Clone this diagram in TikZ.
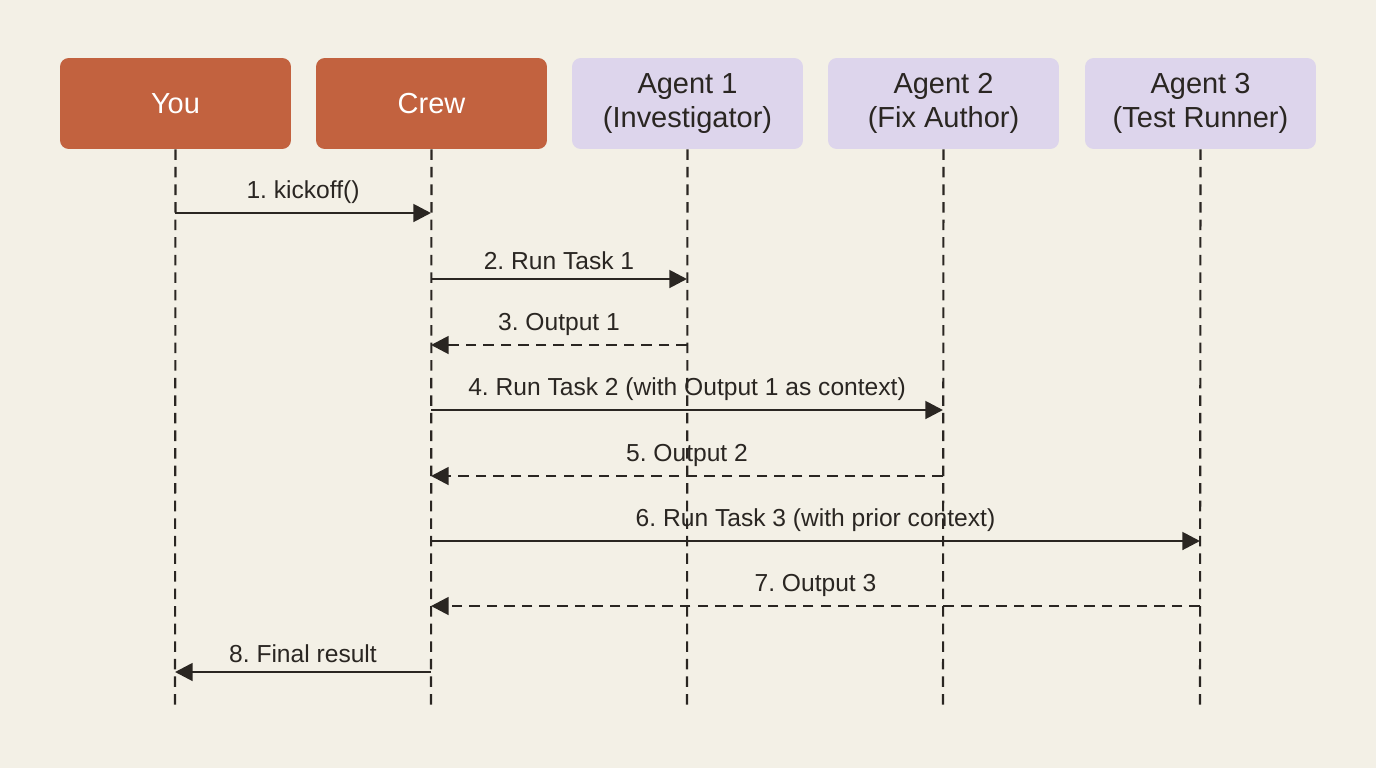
\documentclass[tikz,border=0pt]{standalone}
\usepackage{fontspec}
\setmainfont{Liberation Sans}
\usetikzlibrary{arrows.meta}
\frenchspacing
\definecolor{bg}{HTML}{F3F0E6}
\definecolor{org}{HTML}{C2623F}
\definecolor{lav}{HTML}{DDD5EC}
\definecolor{ink}{HTML}{2A2622}
\tikzset{
  x=0.02cm,y=-0.02cm,
  actor/.style={rounded corners=5pt,minimum width=4.62cm,minimum height=1.82cm,align=center,font=\fontsize{16.5}{19}\selectfont,inner sep=0pt},
  you/.style={actor,fill=org,text=white},
  ag/.style={actor,fill=lav,text=ink},
  life/.style={draw=ink,line width=1.2pt,dash pattern=on 6pt off 4pt},
  msg/.style={draw=ink,line width=1.6pt,-{Triangle[length=10pt,width=10pt]}},
  ret/.style={msg,dash pattern=on 6pt off 4pt},
  lbl/.style={font=\fontsize{14}{16}\frenchspacing\selectfont,text=ink,above=1pt}
}
\begin{document}
\begin{tikzpicture}
\fill[bg] (0,0) rectangle (1376,768);
\useasboundingbox (0,0) rectangle (1376,768);
\node[you] (you) at (175.5,103.5) {You};
\node[you] (crew) at (431.5,103.5) {Crew};
\node[ag] (a1) at (687.5,103.5) {Agent 1\\(Investigator)};
\node[ag] (a2) at (943.5,103.5) {Agent 2\\(Fix Author)};
\node[ag] (a3) at (1200.5,103.5) {Agent 3\\(Test Runner)};
\foreach \n/\x in {you/175,crew/431,a1/687,a2/943,a3/1200}{
  \coordinate (\n e) at (\x,710);
  \draw[life] (\n.south) -- (\n e);
}
\foreach \n/\x in {you/175,crew/431,a1/687,a2/943,a3/1200}{
  \foreach \i/\y in {1/213,2/279,3/345,4/410,5/476,6/541,7/606,8/672}{
    \coordinate (\n\i) at (\x,\y);
  }
}
\draw[msg] (you1) -- node[lbl]{1. kickoff()} (crew1);
\draw[msg] (crew2) -- node[lbl]{2. Run Task 1} (a12);
\draw[ret] (a13) -- node[lbl]{3. Output 1} (crew3);
\draw[msg] (crew4) -- node[lbl]{4. Run Task 2 (with Output 1 as context)} (a24);
\draw[ret] (a25) -- node[lbl]{5. Output 2} (crew5);
\draw[msg] (crew6) -- node[lbl]{6. Run Task 3 (with prior context)} (a36);
\draw[ret] (a37) -- node[lbl]{7. Output 3} (crew7);
\draw[msg] (crew8) -- node[lbl]{8. Final result} (you8);
\end{tikzpicture}
\end{document}
